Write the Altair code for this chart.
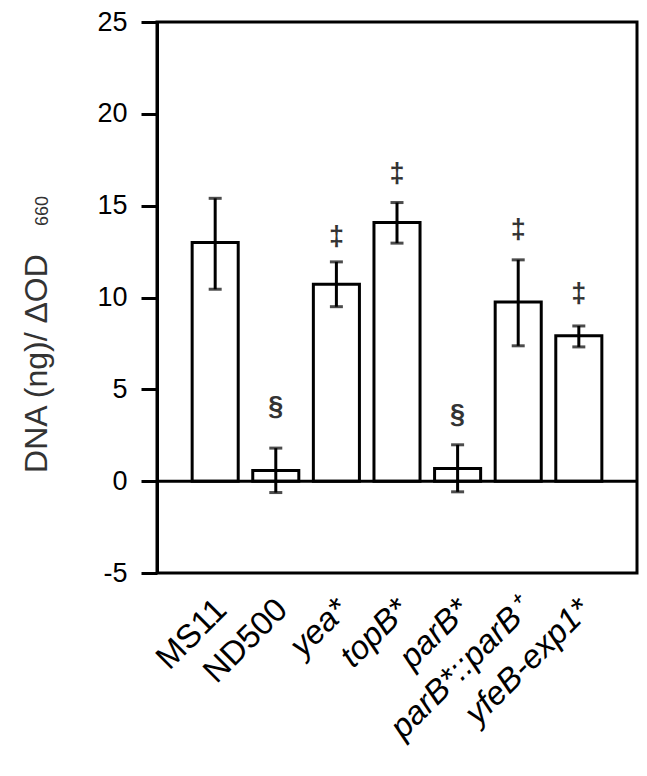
import altair as alt
import pandas as pd

# ---- data ----
strains = ["MS11", "ND500", "yea*", "topB*", "parB*", "parB*::parB\u207a", "yfeB-exp1*"]
means = [13.0, 0.58, 10.72, 14.08, 0.69, 9.76, 7.92]
err_low = [10.45, -0.62, 9.50, 12.96, -0.58, 7.37, 7.31]
err_high = [15.40, 1.80, 11.94, 15.17, 1.98, 12.05, 8.45]
sig_marks = ["", "\u00a7", "\u2021", "\u2021", "\u00a7", "\u2021", "\u2021"]
sig_y = [0.0, 4.06, 13.3, 16.7, 3.59, 13.7, 10.2]
y_ticks = [-5, 0, 5, 10, 15, 20, 25]
y_title = "DNA (ng)/ \u0394OD"
y_title_sub = ["660"]
zero_line = [0]

df = pd.DataFrame({
    "strain": strains,
    "mean": means,
    "lo": err_low,
    "hi": err_high,
    "sig": sig_marks,
    "sig_y": sig_y,
})
sig_df = df[df["sig"] != ""]

FONT = "Liberation Sans"

x_enc = alt.X(
    "strain:N",
    sort=strains,
    scale=alt.Scale(paddingInner=0.24, paddingOuter=0.58),
    axis=alt.Axis(
        title=None,
        domain=False,
        ticks=False,
        labelAngle=-45,
        labelAlign="right",
        labelBaseline="top",
        labelPadding=20,
        labelOffset=-5,
        labelFontSize=33,
        labelFont=FONT,
        labelColor="black",
        labelLimit=400,
        labelFontStyle={
            "condition": {"test": "datum.value == 'MS11' || datum.value == 'ND500'", "value": "normal"},
            "value": "italic",
        },
    ),
)

y_scale = alt.Scale(domain=[-5, 25], nice=False, zero=False)

base = alt.Chart(df)

bars = base.mark_bar(fill="white", stroke="black", strokeWidth=3).encode(
    x=x_enc,
    y=alt.Y(
        "mean:Q",
        scale=y_scale,
        axis=alt.Axis(
            values=y_ticks,
            labelExpr="'' + datum.value",
            grid=False,
            tickSize=16,
            tickWidth=3,
            tickColor="black",
            domainWidth=3,
            domainColor="black",
            labelFontSize=27,
            labelFont=FONT,
            labelColor="black",
            labelPadding=14,
            title=y_title,
            titleFont=FONT,
            titleFontSize=32,
            titleFontWeight="normal",
            titleColor="#333333",
            titleAngle=270,
            titleAlign="center",
            titleBaseline="middle",
            titleX=-121,
            titleY=341,
        ),
    ),
    y2=alt.datum(0),
)

zero = alt.Chart(pd.DataFrame({"z": zero_line})).mark_rule(color="black", strokeWidth=3).encode(
    y=alt.Y("z:Q", scale=y_scale)
)

err = base.mark_rule(color="black", strokeWidth=3).encode(
    x=alt.X("strain:N", sort=strains),
    y=alt.Y("lo:Q", scale=y_scale),
    y2="hi:Q",
)
cap_lo = base.mark_tick(color="black", thickness=3, size=13, orient="horizontal").encode(
    x=alt.X("strain:N", sort=strains),
    y=alt.Y("lo:Q", scale=y_scale),
)
cap_hi = base.mark_tick(color="black", thickness=3, size=13, orient="horizontal").encode(
    x=alt.X("strain:N", sort=strains),
    y=alt.Y("hi:Q", scale=y_scale),
)

sig = alt.Chart(sig_df).mark_text(
    font=FONT, fontSize=27, fontWeight="bold", color="#333333", baseline="middle", align="center"
).encode(
    x=alt.X("strain:N", sort=strains),
    y=alt.Y("sig_y:Q", scale=y_scale),
    text="sig:N",
)

sub = alt.Chart(pd.DataFrame({"t": y_title_sub})).mark_text(
    font=FONT, fontSize=18, color="#333333", angle=270, align="center", baseline="middle"
).encode(
    x=alt.value(-114),
    y=alt.value(189),
    text="t:N",
)

chart = alt.layer(bars, zero, err, cap_lo, cap_hi, sig, sub).properties(
    width=480,
    height=551,
    autosize=alt.AutoSizeParams(type="none"),
    padding={"left": 149, "top": 14, "right": 2, "bottom": 195},
).configure_view(stroke="black", strokeWidth=3)

chart.save("out.html", embed_options={"renderer": "svg", "actions": False})
